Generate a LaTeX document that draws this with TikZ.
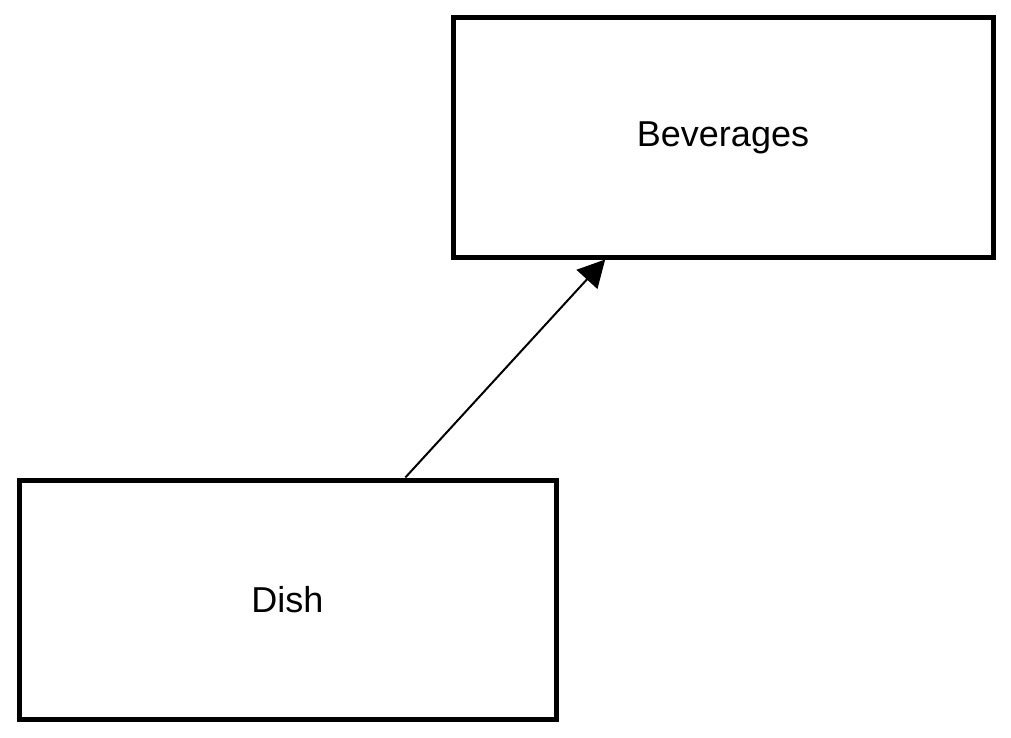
\documentclass[tikz,border=0pt]{standalone}
\usepackage{fontspec}
\setmainfont{Liberation Sans}
\usetikzlibrary{arrows.meta}

\begin{document}
\begin{tikzpicture}[x=0.5pt,y=-0.5pt,>={Triangle[length=13.5pt,width=14pt]},
    entity/.style={shape=rectangle,draw=black,line width=2.5pt,minimum width=270pt,minimum height=119.5pt,font=\fontsize{18}{21.6}\selectfont}]
                \useasboundingbox (0,0) rectangle (1011,738);
                \node[entity](Beverages)at(723, 137.5){Beverages};
                \node[entity,minimum width=268.5pt](Dish)at(287.5, 599.5){Dish};
                \path[->,line width=1pt](Dish.46) edge (Beverages.226);
            \end{tikzpicture}
\end{document}
